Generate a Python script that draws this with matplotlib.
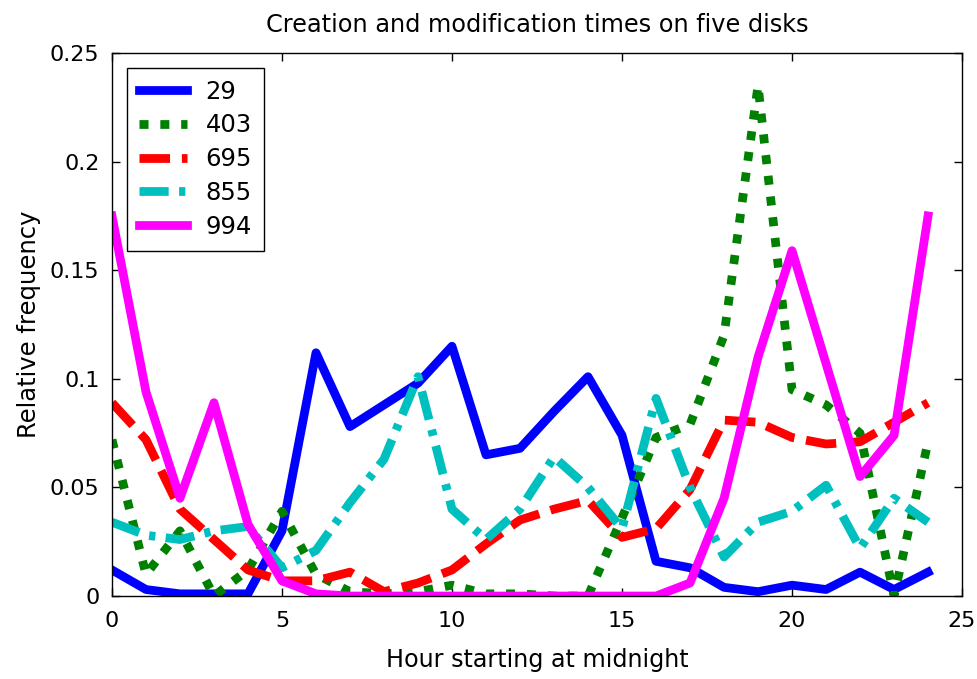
import matplotlib
matplotlib.use("Agg")
import matplotlib.pyplot as plt

# hour of day (0..24, hour 24 repeats midnight)
hours = list(range(25))

disk_29 = [0.012, 0.003, 0.001, 0.001, 0.001, 0.030, 0.112, 0.078, 0.088, 0.098,
           0.115, 0.065, 0.068, 0.085, 0.101, 0.074, 0.016, 0.013, 0.004, 0.002,
           0.005, 0.003, 0.011, 0.003, 0.011]
disk_403 = [0.072, 0.010, 0.030, 0.000, 0.012, 0.039, 0.010, 0.002, 0.001, 0.002,
            0.005, 0.001, 0.001, 0.000, 0.000, 0.036, 0.073, 0.079, 0.120, 0.235,
            0.095, 0.088, 0.075, 0.000, 0.071]
disk_695 = [0.089, 0.072, 0.040, 0.026, 0.012, 0.007, 0.007, 0.011, 0.002, 0.006,
            0.012, 0.024, 0.035, 0.040, 0.044, 0.027, 0.031, 0.049, 0.081, 0.080,
            0.073, 0.070, 0.071, 0.080, 0.089]
disk_855 = [0.034, 0.028, 0.026, 0.030, 0.032, 0.013, 0.021, 0.043, 0.063, 0.101,
            0.040, 0.026, 0.040, 0.064, 0.050, 0.031, 0.091, 0.050, 0.018, 0.034,
            0.039, 0.051, 0.022, 0.045, 0.034]
disk_994 = [0.175, 0.094, 0.045, 0.089, 0.033, 0.007, 0.001, 0.000, 0.000, 0.000,
            0.000, 0.000, 0.000, 0.000, 0.000, 0.000, 0.000, 0.006, 0.045, 0.110,
            0.159, 0.107, 0.055, 0.074, 0.175]

labels = ["29", "403", "695", "855", "994"]

plt.rcParams["font.family"] = "DejaVu Sans"
plt.rcParams["lines.scale_dashes"] = False

fig = plt.figure(figsize=(9.77, 6.79), dpi=100)
ax = fig.add_axes([0.1146, 0.1222, 0.8701, 0.7997])

lw = 6.3
ax.plot(hours, disk_29, color=(0, 0, 1), lw=lw, label=labels[0])
ax.plot(hours, disk_403, color=(0, 0.5, 0), lw=lw, label=labels[1],
        linestyle=(0, (6.5, 8.5)), dash_capstyle="butt")
ax.plot(hours, disk_695, color=(1, 0, 0), lw=lw, label=labels[2],
        linestyle=(0, (22, 8.5)), dash_capstyle="butt")
ax.plot(hours, disk_855, color=(0, 0.75, 0.75), lw=lw, label=labels[3],
        linestyle=(0, (21, 7.5, 4.5, 7.5)), dash_capstyle="butt")
ax.plot(hours, disk_994, color=(1, 0, 1), lw=lw, label=labels[4])

ax.set_xlim(0, 25)
ax.set_ylim(0, 0.25)
ax.set_xticks([0, 5, 10, 15, 20, 25])
ax.set_yticks([0, 0.05, 0.1, 0.15, 0.2, 0.25])
ax.set_yticklabels(["0", "0.05", "0.1", "0.15", "0.2", "0.25"])
ax.tick_params(direction="in", length=6, width=1, top=True, right=True,
               labelsize=16)
ax.tick_params(axis="x", pad=11)
ax.tick_params(axis="y", pad=9)
for s in ax.spines.values():
    s.set_linewidth(1)

ax.set_xlabel("Hour starting at midnight", fontsize=17.2, labelpad=12)
ax.set_ylabel("Relative frequency", fontsize=17.5, labelpad=6)
ax.set_title("Creation and modification times on five disks", fontsize=17.3, pad=15)

leg = ax.legend(loc="upper left", fontsize=17.5, fancybox=False, framealpha=1,
                edgecolor="black", handlelength=2.0, handletextpad=0.75,
                borderpad=0.5, borderaxespad=0.6, labelspacing=0.4)
leg.get_frame().set_linewidth(1)

fig.savefig("out.png", dpi=100)
